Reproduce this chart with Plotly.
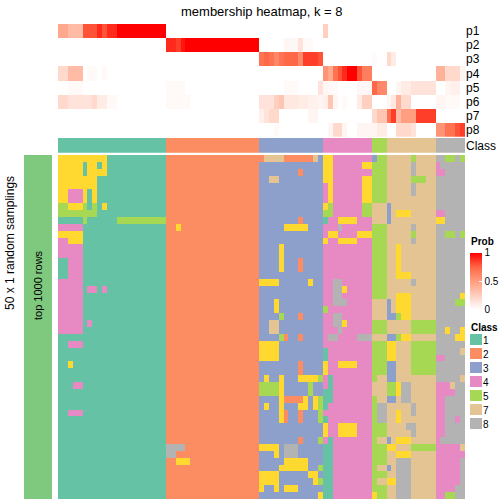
import numpy as np
import plotly.graph_objects as go

W = H = 504

# ---------------- data ----------------
title_text = "membership heatmap, k = 8"
class_labels = ["1", "2", "3", "4", "5", "7", "8"]
class_codes = [1, 2, 3, 4, 5, 7, 8]
class_sizes = [22, 19, 13, 10, 3, 10, 6]
prob_rows = ["p1", "p2", "p3", "p4", "p5", "p6", "p7", "p8"]

# membership probabilities, grouped by class: c1 | c2 | c3 | c4 | c5 | c7 | c8
p1 = ([0.45, 0.45, 0.35, 0.35, 0.35, 0.8, 0.8, 0.8, 0.9, 0.8, 0.9, 0.9, 1, 1, 1, 1, 1, 1, 1, 1, 1, 1]
      + [0, 0, 0, 0, 0, 0, 0, 0, 0, 0, 0, 0, 0, 0, 0, 0, 0, 0, 0]
      + [0, 0, 0, 0, 0, 0, 0, 0, 0, 0, 0, 0, 0]
      + [0.25, 0, 0, 0, 0, 0, 0, 0, 0, 0]
      + [0, 0, 0]
      + [0, 0, 0, 0, 0, 0, 0, 0, 0, 0]
      + [0, 0, 0, 0, 0, 0])
p2 = ([0, 0, 0, 0, 0, 0, 0, 0, 0, 0, 0, 0, 0, 0, 0, 0, 0, 0, 0, 0, 0, 0]
      + [0.9, 0.9, 0.85, 0.95, 1, 1, 1, 1, 1, 1, 1, 1, 1, 1, 1, 1, 1, 1, 1]
      + [0, 0, 0, 0, 0, 0.05, 0.04, 0.04, 0.15, 0.03, 0.03, 0, 0]
      + [0, 0, 0, 0, 0, 0, 0, 0, 0, 0]
      + [0, 0, 0]
      + [0, 0, 0, 0, 0, 0, 0, 0, 0, 0]
      + [0, 0, 0, 0, 0, 0])
p3 = ([0, 0, 0, 0, 0, 0, 0, 0, 0, 0, 0, 0, 0, 0, 0, 0, 0, 0, 0, 0, 0, 0]
      + [0, 0, 0, 0, 0, 0, 0, 0, 0, 0, 0, 0, 0, 0, 0, 0, 0, 0, 0]
      + [0.7, 0.75, 0.7, 0.6, 0.7, 0.75, 0.75, 0.75, 0.6, 0.85, 0.85, 0.85, 0.8]
      + [0, 0, 0, 0, 0, 0, 0, 0, 0, 0]
      + [0.02, 0, 0]
      + [0.2, 0.1, 0, 0, 0, 0, 0, 0, 0, 0]
      + [0, 0, 0, 0, 0, 0])
p4 = ([0.2, 0.2, 0.35, 0.35, 0.35, 0, 0.03, 0.03, 0, 0.03, 0, 0, 0, 0, 0, 0, 0, 0, 0, 0, 0, 0]
      + [0, 0, 0, 0, 0, 0, 0, 0, 0, 0, 0, 0, 0, 0, 0, 0, 0, 0, 0]
      + [0, 0, 0, 0, 0, 0, 0, 0, 0, 0, 0, 0, 0]
      + [0.55, 0.45, 0.7, 0.8, 0.9, 1, 1, 0.8, 0.65, 0.65]
      + [0, 0, 0]
      + [0, 0, 0, 0, 0, 0, 0, 0, 0, 0]
      + [0.4, 0.4, 0.2, 0.2, 0.2, 0.05])
p5 = ([0, 0, 0.03, 0.03, 0.03, 0, 0, 0, 0, 0, 0, 0, 0, 0, 0, 0, 0, 0, 0, 0, 0, 0]
      + [0.03, 0.03, 0.03, 0.03, 0, 0, 0, 0, 0, 0, 0, 0, 0, 0, 0, 0, 0, 0, 0]
      + [0, 0, 0, 0, 0, 0.03, 0.03, 0.03, 0, 0, 0, 0, 0.15]
      + [0.05, 0.03, 0.03, 0, 0, 0, 0, 0.04, 0.04, 0.04]
      + [0.75, 0.6, 0.6]
      + [0, 0, 0.05, 0.1, 0.1, 0.15, 0.15, 0.15, 0.15, 0.15]
      + [0, 0, 0.05, 0.08, 0.08, 0])
p6 = ([0.2, 0.2, 0.15, 0.15, 0.15, 0.15, 0.15, 0.2, 0.1, 0.1, 0.03, 0.03, 0, 0, 0, 0, 0, 0, 0, 0, 0, 0]
      + [0.03, 0.03, 0.03, 0.03, 0.03, 0, 0, 0, 0, 0, 0, 0, 0, 0, 0, 0, 0, 0, 0]
      + [0.15, 0.15, 0.15, 0.25, 0.3, 0.12, 0.12, 0.12, 0.1, 0.1, 0.07, 0.07, 0.05]
      + [0.08, 0.3, 0.05, 0, 0.03, 0, 0, 0.1, 0.25, 0.25]
      + [0, 0, 0]
      + [0.05, 0.12, 0.4, 0.2, 0.2, 0, 0, 0, 0, 0]
      + [0.05, 0.05, 0.03, 0.03, 0.03, 0])
p7 = ([0, 0, 0, 0, 0, 0, 0, 0, 0, 0, 0, 0, 0, 0, 0, 0, 0, 0, 0, 0, 0, 0]
      + [0, 0, 0, 0, 0, 0, 0, 0, 0, 0, 0, 0, 0, 0, 0, 0, 0, 0, 0]
      + [0.08, 0.15, 0.2, 0.2, 0, 0, 0, 0, 0, 0, 0.05, 0.05, 0]
      + [0, 0, 0, 0, 0, 0, 0, 0, 0, 0]
      + [0.2, 0.3, 0.3]
      + [0.7, 0.85, 0.35, 0.5, 0.5, 0.5, 0.85, 0.85, 0.85, 0.85]
      + [0, 0, 0, 0, 0, 0])
p8 = ([0, 0, 0, 0, 0, 0, 0, 0, 0, 0, 0, 0, 0, 0, 0, 0, 0, 0, 0, 0, 0, 0]
      + [0, 0, 0, 0, 0, 0, 0, 0, 0, 0, 0, 0, 0, 0, 0, 0, 0, 0, 0]
      + [0, 0, 0, 0.03, 0, 0, 0, 0, 0, 0, 0, 0, 0]
      + [0, 0.05, 0.2, 0.2, 0.05, 0, 0, 0.05, 0.05, 0.05]
      + [0.05, 0.1, 0.1]
      + [0, 0, 0.2, 0.2, 0.2, 0.15, 0, 0, 0, 0]
      + [0.55, 0.55, 0.7, 0.7, 0.8, 0.85])

# class assignment in each of the 50 random samplings (one string per row, groups = final classes)
# codes: 1..8 (6 = yellow class not present in the final partition)
samplings = [
    "6666666666111111111111 2222222222222222222 2777722222273 6644444444 355 7777757777 885585",
    "6666616616111111111111 2222222222222222222 3333333333333 6644444466 555 7777787777 488888",
    "6666616666111111111111 2222222222222222222 3333333323333 6644444444 555 7777787777 448888",
    "6666666611111111111111 2222222222222222222 3377333333333 6644444466 555 7777755577 888888",
    "6666666611111111111111 2222222222222222222 3333333333333 4644444466 555 7777787777 888888",
    "6644461611111111111111 2222222222222222222 3333333333333 4644444466 555 7777787777 888888",
    "6644461611111111111111 2222222222222222222 3333333333333 4644444466 555 7777777777 888888",
    "5566651516111111111111 2222222222222222222 3333333333333 6544444455 777 3777777777 888888",
    "5555555511111111111111 2222222222222222222 3333333333333 5544444455 777 3766677777 448888",
    "1111151111115555555555 2222222222222222222 3333333323333 1446666444 777 3777777777 668888",
    "4444411111111111111111 2262222222222222222 3333366666333 4448444444 555 7777787777 888888",
    "6666611111111111111111 2222222222222222222 3333333333333 4664444666 555 7777757777 885585",
    "4466611111111111111111 2222222222222222222 3333333333333 6446666444 555 7777787777 888888",
    "4444411111111111111111 2222222222222222222 3333633333333 4444444444 555 7767777777 888888",
    "4444411111111111111111 2222222222222222222 3333633333333 4444444444 555 7767777777 888888",
    "1144411111111111111111 2222222222222222222 3333633323333 4444444444 555 7767777777 888888",
    "1144411111111111111111 2222222222222222222 3333633323333 4444444444 555 7767777777 888888",
    "1144411111111111111111 2222222222222222222 3333333333333 4444444444 555 7766677777 888888",
    "4444411111111111111111 2222222222222222222 6666333333633 4488444444 555 7777787777 888888",
    "4444414414111111111111 2222222222222222222 3333333333333 4488644444 555 7777777777 888888",
    "4444411111111111111111 2222222222222222222 3333333333333 4488444444 555 7766677777 888886",
    "4444411111111111111111 2222222222222222222 3336333333333 4488844444 777 3766677777 888855",
    "4444411111111111111111 2222222222222222222 3336333333333 5444444444 777 3766677777 888888",
    "4444411111111111111111 2222222222222222222 3333533323333 4488444444 777 3356677777 888888",
    "4444414111111111111111 2222222222222222222 3377333333333 4488644444 555 7777755555 888888",
    "4444411111111111111111 2222222222222222222 3377333333333 4448444444 555 7777755555 886886",
    "1111111111111111111111 2222222222222222222 3333523323333 4884444888 777 3356677777 888866",
    "1144411111111111111111 2222222222222222222 6666333333333 4444444444 555 6677755555 888888",
    "1111111111111111111111 2222222222222222222 6666333333333 1444444444 555 6677755555 888887",
    "1111111111111111111111 2222222222222222222 6666333333333 1444444444 555 6677755555 448888",
    "1161111111111111111111 2222222222222222222 3333333323333 6446666444 555 3377755555 888888",
    "1111111111111111111111 2222222222222222222 3333333323333 6444444444 555 3377755555 888888",
    "1111111111111111111111 2222222222222222222 3633633366665 4144444444 577 3377777777 888887",
    "1114411111111111111111 2222222222222222222 5555633333533 4144444444 777 5568877777 444788",
    "1111111111111111111111 2222222222222222222 5555633333533 1144444444 777 5568877777 444488",
    "1111111111111111111111 2222222222222222222 3333622226365 1144444444 577 3378877777 448888",
    "1111111111111111111111 2222222222222222222 3633633366365 1444444444 588 7777787777 448888",
    "1144411111111111111111 2222222222222222222 3333623323335 4444444444 588 7767787777 448888",
    "1111111111111111111111 2222222222222222222 3333623323335 1444444444 588 7767777777 448848",
    "1111111111111111111111 2222222222222222222 3333333333333 6446666444 555 7777887777 448888",
    "1111111111111111111111 2222222222222222222 3333333333333 6446666444 555 7777787777 448888",
    "1111111111111111111111 2222222222222222222 3333333323335 4144444444 577 3766677777 488888",
    "1111111111111111111111 8888222222222222222 6666388833333 1144444444 555 6677755555 444447",
    "1111111111111111111111 8822222222222222222 3336388833333 1144444444 555 7766677777 444444",
    "1111111111111111111111 2266622222222222222 3333366666333 1144444444 555 7788877777 444448",
    "1111111111111111111111 2222222222222222222 3333666666335 1144444444 577 3788877777 444448",
    "1111111111111111111111 2222222222222222222 6666333333663 1144444444 555 7788877777 444448",
    "1111111111111111111111 2222222222222222222 6666333333365 1144444444 577 6688877777 444448",
    "1111111111111111111111 2222222222222222222 6336366633333 1144444444 555 7788877777 444488",
    "1111111111111111111111 2222222222222222222 3333333333336 1144444444 655 7788877777 445588",
]

code_colors = ["#66C2A5", "#FC8D62", "#8DA0CB", "#E78AC3", "#A6D854", "#FFD92F", "#E5C494", "#B3B3B3"]
sampling_bar_color = "#7FC97F"

# ---------------- build matrices ----------------
Z = np.array([[int(c) for c in row.replace(" ", "")] for row in samplings])
n_rows, n_cols = Z.shape
P = np.array([p1, p2, p3, p4, p5, p6, p7, p8])
col_class = np.repeat(class_codes, class_sizes)
cols = np.arange(n_cols)

disc_scale = []
for k, c in enumerate(code_colors):
    disc_scale += [[k / 8, c], [(k + 1) / 8, c]]

prob_scale = [[0, "#FFFFFF"], [0.25, "rgb(255,207,191)"], [0.5, "rgb(255,158,129)"],
              [0.75, "rgb(255,104,70)"], [1, "#FF0000"]]

FONT = "Liberation Sans, Arial, Helvetica, sans-serif"

def py(v):  # pixel from top -> paper y
    return 1 - v / H

def px(v):
    return v / W

fig = go.Figure()

# main heatmap
fig.add_trace(go.Heatmap(z=Z, x=cols, y=np.arange(n_rows), colorscale=disc_scale, zmin=0.5, zmax=8.5,
                         showscale=False, hoverinfo="skip", xaxis="x", yaxis="y"))
# class annotation bar
fig.add_trace(go.Heatmap(z=[col_class], x=cols, y=["Class"], colorscale=disc_scale, zmin=0.5, zmax=8.5,
                         showscale=False, hoverinfo="skip", xaxis="x", yaxis="y2"))
# membership probabilities
fig.add_trace(go.Heatmap(z=P, x=cols, y=prob_rows, colorscale=prob_scale, zmin=0, zmax=1,
                         hoverinfo="skip", xaxis="x", yaxis="y3",
                         colorbar=dict(x=px(470), xanchor="left", y=py(281), yanchor="middle",
                                       lenmode="pixels", len=57, thickness=12, outlinewidth=0,
                                       tickvals=[0, 0.5, 1], ticktext=["0", "0.5", "1"],
                                       ticks="inside", ticklen=3, tickcolor="white",
                                       tickfont=dict(size=10, family=FONT, color="black"),
                                       xpad=0, ypad=0)))
# left sampling bar
fig.add_trace(go.Heatmap(z=[[1]], x=[0], y=[0], colorscale=[[0, sampling_bar_color], [1, sampling_bar_color]],
                         showscale=False, hoverinfo="skip", xaxis="x2", yaxis="y4"))
# class legend swatches
fig.add_trace(go.Heatmap(z=[[c] for c in class_codes], x=[0], y=class_labels, colorscale=disc_scale,
                         zmin=0.5, zmax=8.5, showscale=False, hoverinfo="skip", ygap=3,
                         xaxis="x3", yaxis="y5"))

hid = dict(showgrid=False, zeroline=False, showticklabels=False, ticks="", showline=False)
lab = dict(showgrid=False, zeroline=False, ticks="", showline=False, side="right",
           tickfont=dict(size=12, family=FONT, color="black"))

fig.update_layout(
    width=W, height=H, margin=dict(l=0, r=0, t=0, b=0),
    paper_bgcolor="white", plot_bgcolor="white", showlegend=False,
    xaxis=dict(domain=[px(58), px(465)], range=[-0.5, n_cols - 0.5], anchor="y", **hid),
    yaxis=dict(domain=[py(499), py(155)], range=[n_rows - 0.5, -0.5], anchor="x", **hid),
    yaxis2=dict(domain=[py(152.7), py(138)], anchor="x", tickmode="array", tickvals=["Class"], **lab),
    yaxis3=dict(domain=[py(136.7), py(24)], anchor="x", autorange="reversed",
                tickmode="array", tickvals=prob_rows, ticktext=prob_rows, **lab),
    xaxis2=dict(domain=[px(24), px(52)], anchor="y4", **hid),
    yaxis4=dict(domain=[py(499), py(155)], anchor="x2", **hid),
    xaxis3=dict(domain=[px(470), px(482)], anchor="y5", **hid),
    yaxis5=dict(domain=[py(431), py(333)], anchor="x3", autorange="reversed", showgrid=False,
                zeroline=False, ticks="", showline=False, side="right",
                tickmode="array", tickvals=class_labels, ticktext=class_labels,
                tickfont=dict(size=10, family=FONT, color="black")),
    font=dict(family=FONT, color="black"),
)

fig.add_annotation(text=title_text, x=px(261.5), y=py(11), xref="paper", yref="paper",
                   showarrow=False, font=dict(size=13, family=FONT), xanchor="center", yanchor="middle")
fig.add_annotation(text="<b>Prob</b>", x=px(469), y=py(241), xref="paper", yref="paper",
                   showarrow=False, font=dict(size=10, family=FONT), xanchor="left", yanchor="middle")
fig.add_annotation(text="<b>Class</b>", x=px(469), y=py(327), xref="paper", yref="paper",
                   showarrow=False, font=dict(size=10, family=FONT), xanchor="left", yanchor="middle")
fig.add_annotation(text="50 x 1 random samplings", x=px(10), y=py(243), xref="paper", yref="paper",
                   showarrow=False, textangle=-90, font=dict(size=12, family=FONT),
                   xanchor="center", yanchor="middle")
fig.add_annotation(text="top 1000 rows", x=px(38), y=py(285), xref="paper", yref="paper",
                   showarrow=False, textangle=-90, font=dict(size=11, family=FONT),
                   xanchor="center", yanchor="middle")

fig.write_html("out.html", config={"displayModeBar": False},
               post_script="document.body.style.margin='0';document.body.style.overflow='hidden';")
